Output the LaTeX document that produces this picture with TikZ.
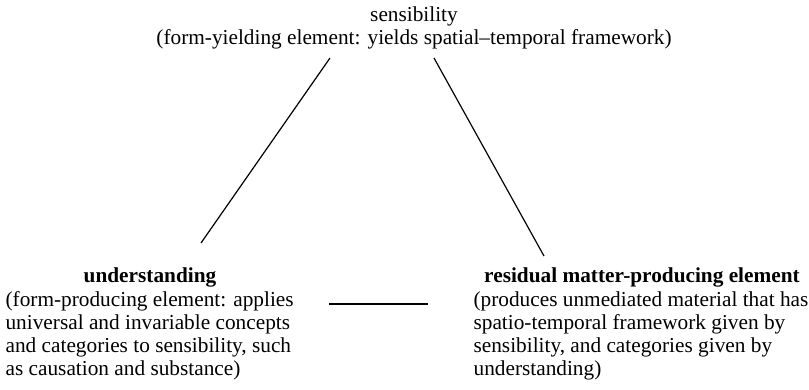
\documentclass[tikz,border=0pt]{standalone}
\usepackage{fontspec}
\setmainfont{Liberation Serif}
\usetikzlibrary{calc,positioning}
\tikzset{
    every node/.style={inner sep=0pt, font=\fontsize{21.3}{22.7}\selectfont},
    head/.style={font=\fontsize{21.3}{22.7}\selectfont\bfseries, anchor=base},
    body/.style={align=left, anchor=base west},
}

\begin{document}
\begin{tikzpicture}[x=1pt,y=-1pt,line width=1.2pt]
   \useasboundingbox (0,0) rectangle (809,389);
   % top element
   \node[align=center, anchor=base] (sens) at (414,44) {sensibility\\(form-yielding element: yields spatial–temporal framework)};
   % bottom left element
   \node[head] (und) at (150,282) {understanding};
   \node[body] (undtext) at (5,375) {(form-producing element: applies\\universal and invariable concepts\\and categories to sensibility, such\\as causation and substance)};
   % bottom right element
   \node[head] (res) at (642,282) {residual matter-producing element};
   \node[body] (restext) at (473,375) {(produces unmediated material that has\\spatio-temporal framework given by\\sensibility, and categories given by\\understanding)};
   % line ends
   \coordinate (sl) at (330,58);
   \coordinate (sr) at (434,58);
   \coordinate (ut) at (201,243);
   \coordinate (rt) at (544,256);
   \coordinate (ur) at (329,304);
   \coordinate (rl) at (428,304);
   \draw (sl) -- (ut);
   \draw (sr) -- (rt);
   \draw (ur) -- (rl);
\end{tikzpicture}
\end{document}
